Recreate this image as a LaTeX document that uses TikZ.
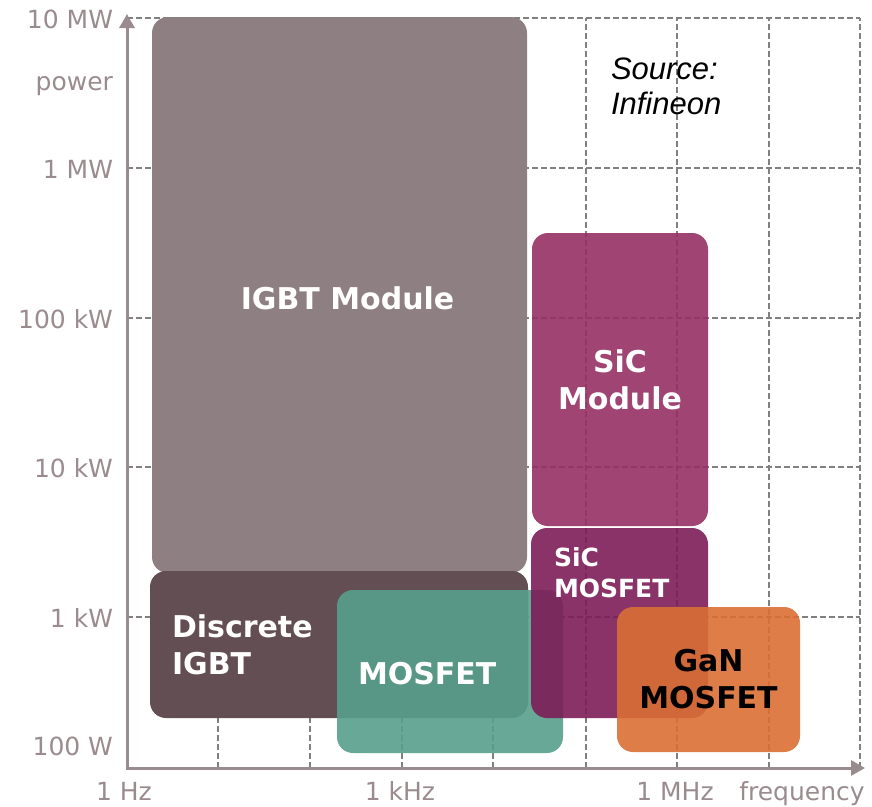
\documentclass[tikz,border=0pt]{standalone}
\usepackage{fontspec}
\setmainfont{DejaVu Sans}
\newfontfamily\srcfont{Liberation Sans}
\usetikzlibrary{arrows.meta,positioning}
\definecolor{axisgray}{HTML}{9A8B8E}
\definecolor{gridgray}{HTML}{808080}
\definecolor{igbtmodcol}{HTML}{8E7F82}
\definecolor{igbtdisccol}{HTML}{634E53}
\definecolor{mosfetcol}{HTML}{579E8B}
\definecolor{sicmodcol}{HTML}{953064}
\definecolor{sicmoscol}{HTML}{7D1D58}
\definecolor{gancol}{HTML}{DA6F34}

\begin{document}
\begin{tikzpicture}[x=1pt,y=-1pt,outer sep=0pt]
\tikzstyle{box}=[rounded corners=16pt, inner sep=0pt, anchor=north west,
    text=white, font=\fontsize{30}{37}\selectfont\bfseries, align=center]
\tikzstyle{lbl}=[inner sep=0pt, text=white, font=\fontsize{30}{37}\selectfont\bfseries, align=left]
\tikzstyle{tick}=[inner sep=0pt, text=axisgray, font=\fontsize{25}{30}\selectfont]
\tikzstyle{gridline}=[gridgray, line width=1.6pt, dash pattern=on 6pt off 3pt]
\tikzstyle{axisline}=[axisgray, line width=3pt,
    {Triangle[length=14pt,width=15pt]}-{Triangle[length=14pt,width=15pt]}]
\useasboundingbox (0,0) rectangle (872,806);

\coordinate (o) at (127,768);
\coordinate (ytip) at (127,14);
\coordinate (xtip) at (865,768);

% grid
\foreach \x in {218,310,402,493,586,677,769,860}
    \draw[gridline] (\x,768) -- (\x,18);
\foreach \y in {18,168,318,467,617}
    \draw[gridline] (127,\y) -- (860,\y);

% devices
\node (igbtmod) [box, fill=igbtmodcol, minimum width=375pt, minimum height=556pt] at (152,17) {};
\node (igbtmodtxt) [lbl] at ([shift={(8,3)}]igbtmod.center) {IGBT Module};
\node (igbtdisc) [box, fill=igbtdisccol, minimum width=378pt, minimum height=147pt,
    align=left, text width=334pt, inner xsep=22pt] at (150,571) {Discrete\\IGBT};
\node (mosfet) [box, fill=mosfetcol, fill opacity=0.9, text opacity=1, minimum width=226pt, minimum height=163pt] at (337,590) {};
\node (mosfettxt) [lbl, anchor=west] at ([shift={(21,2)}]mosfet.west) {MOSFET};
\node (sicmod) [box, fill=sicmodcol, fill opacity=0.9, text opacity=1, minimum width=176pt, minimum height=293pt] at (532,233) {SiC\\Module};
\node (sicmos) [box, fill=sicmoscol, fill opacity=0.9, minimum width=177pt, minimum height=190pt] at (531,528) {};
\node (sicmostxt) [lbl, anchor=north west, font=\fontsize{25}{31}\selectfont\bfseries] at ([shift={(23,19)}]sicmos.north west) {SiC\\MOSFET};
\node (gan) [box, fill=gancol, fill opacity=0.9, text opacity=1, text=black, minimum width=183pt, minimum height=145pt] at (617,607) {GaN\\MOSFET};

% axes
\draw[axisline] (ytip) -- (o) -- (xtip);

\node (p10M) [tick, anchor=base east] at (113,28) {10 MW};
\node (plbl) [tick, anchor=base east] at (113,90) {power};
\node (p1M) [tick, anchor=base east] at (113,178) {1 MW};
\node (p100k) [tick, anchor=base east] at (113,328) {100 kW};
\node (p10k) [tick, anchor=base east] at (113,477) {10 kW};
\node (p1k) [tick, anchor=base east] at (113,627) {1 kW};
\node (p100) [tick, anchor=base east] at (113,755) {100 W};
\node (f1) [tick, anchor=base] at (124,800) {1 Hz};
\node (f1k) [tick, anchor=base] at (400,800) {1 kHz};
\node (f1M) [tick, anchor=base] at (675,800) {1 MHz};
\node (flbl) [tick, anchor=base] at (802,800) {frequency};

\node (src) [inner sep=0pt, anchor=north west, align=left,
    font=\srcfont\itshape\fontsize{31}{35}\selectfont] at (611,58) {Source:\\Infineon};
\end{tikzpicture}
\end{document}
